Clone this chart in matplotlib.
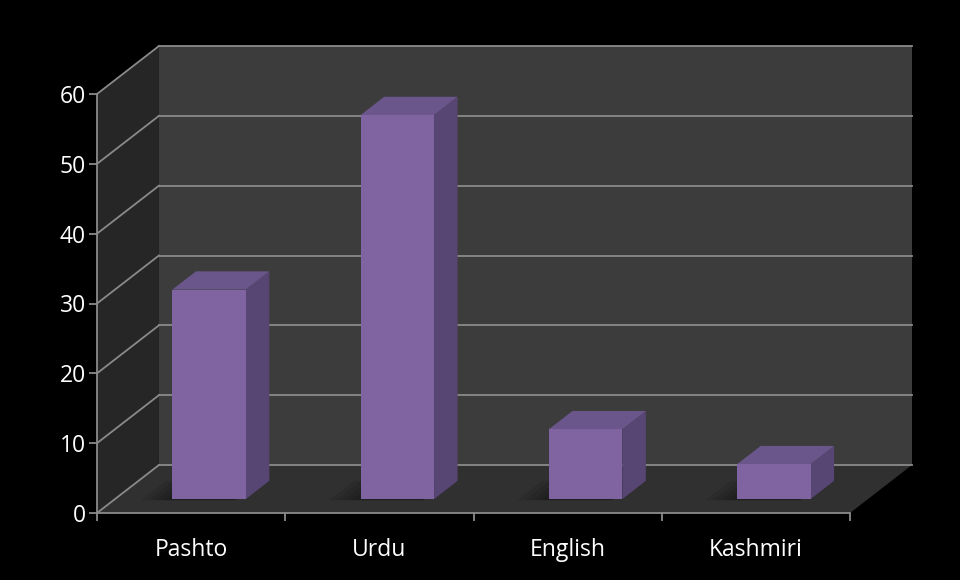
import matplotlib
matplotlib.use("Agg")
import matplotlib.pyplot as plt
from matplotlib.patches import Polygon

# data
languages = ["Pashto", "Urdu", "English", "Kashmiri"]
counts = [30, 55, 10, 5]
y_ticks = [0, 10, 20, 30, 40, 50, 60]

# 3d look: depth offset of the back wall in data units
DX = 0.329
DY = 6.87
BAR_W = 0.39
D_FRONT, D_BACK = 0.29, 0.67

grid_col = "#8a8a8a"
front_col = "#8064a2"
side_col = "#574573"
top_col = "#6b568c"


def proj(x, y, d):
    return (x + d * DX, y + d * DY)


def poly(ax, pts, color, z, **kw):
    p = Polygon(pts, closed=True, facecolor=color, edgecolor="none",
                zorder=z, clip_on=False, **kw)
    ax.add_patch(p)


fig = plt.figure(figsize=(9.6, 5.8), dpi=100, facecolor="black")
ax = fig.add_axes([97 / 960, 67 / 580, 753 / 960, 419 / 580])
ax.set_xlim(0, len(languages))
ax.set_ylim(0, 60)
ax.patch.set_visible(False)

n = len(languages)
ymax = y_ticks[-1]

# walls and floor
poly(ax, [proj(0, 0, 1), proj(n, 0, 1), proj(n, ymax, 1), proj(0, ymax, 1)], "#3c3c3c", 1)
poly(ax, [proj(0, 0, 0), proj(0, 0, 1), proj(0, ymax, 1), proj(0, ymax, 0)], "#262626", 1)
poly(ax, [proj(0, 0, 0), proj(n, 0, 0), proj(n, 0, 1), proj(0, 0, 1)], "#303030", 1)

# gridlines on back and side walls
for v in y_ticks:
    a, b = proj(0, v, 1), proj(n, v, 1)
    ax.plot([a[0], b[0]], [a[1], b[1]], color=grid_col, lw=1.3, zorder=2, clip_on=False)
    c = proj(0, v, 0)
    ax.plot([c[0], a[0]], [c[1], a[1]], color=grid_col, lw=1.3, zorder=2, clip_on=False)

# bars
for i, val in enumerate(counts):
    x0 = i + 0.5 - BAR_W / 2
    x1 = x0 + BAR_W
    # soft shadow on the floor, mostly to the left
    for k in range(4):
        g = 0.04 * (4 - k)
        poly(ax, [proj(x0 - g, 0, D_FRONT - 0.02), proj(x1 - 0.05, 0, D_FRONT - 0.02),
                  proj(x1, 0, D_BACK), proj(x0 - g, 0, D_BACK)],
             "black", 3, alpha=0.09)
    # front face
    poly(ax, [proj(x0, 0, D_FRONT), proj(x1, 0, D_FRONT),
              proj(x1, val, D_FRONT), proj(x0, val, D_FRONT)], front_col, 5)
    # right side
    poly(ax, [proj(x1, 0, D_FRONT), proj(x1, 0, D_BACK),
              proj(x1, val, D_BACK), proj(x1, val, D_FRONT)], side_col, 4)
    # top
    poly(ax, [proj(x0, val, D_FRONT), proj(x1, val, D_FRONT),
              proj(x1, val, D_BACK), proj(x0, val, D_BACK)], top_col, 4)

# axes
for s in ["top", "right"]:
    ax.spines[s].set_visible(False)
for s in ["left", "bottom"]:
    ax.spines[s].set_color(grid_col)
    ax.spines[s].set_linewidth(1.3)
    ax.spines[s].set_zorder(6)

ax.set_yticks(y_ticks)
ax.set_xticks(range(n + 1))
ax.set_xticklabels([])
ax.tick_params(axis="both", colors=grid_col, width=1.3, length=6,
               labelcolor="white", labelsize=16.5)
ax.tick_params(axis="y", pad=2)
for lab in ax.get_yticklabels():
    lab.set_fontfamily("Open Sans")

for i, name in enumerate(languages):
    ax.text(i + 0.5, -5.3, name, ha="center", va="center", color="white",
            fontsize=16.5, fontfamily="Open Sans")

fig.savefig("out.png", dpi=100, facecolor="black")
